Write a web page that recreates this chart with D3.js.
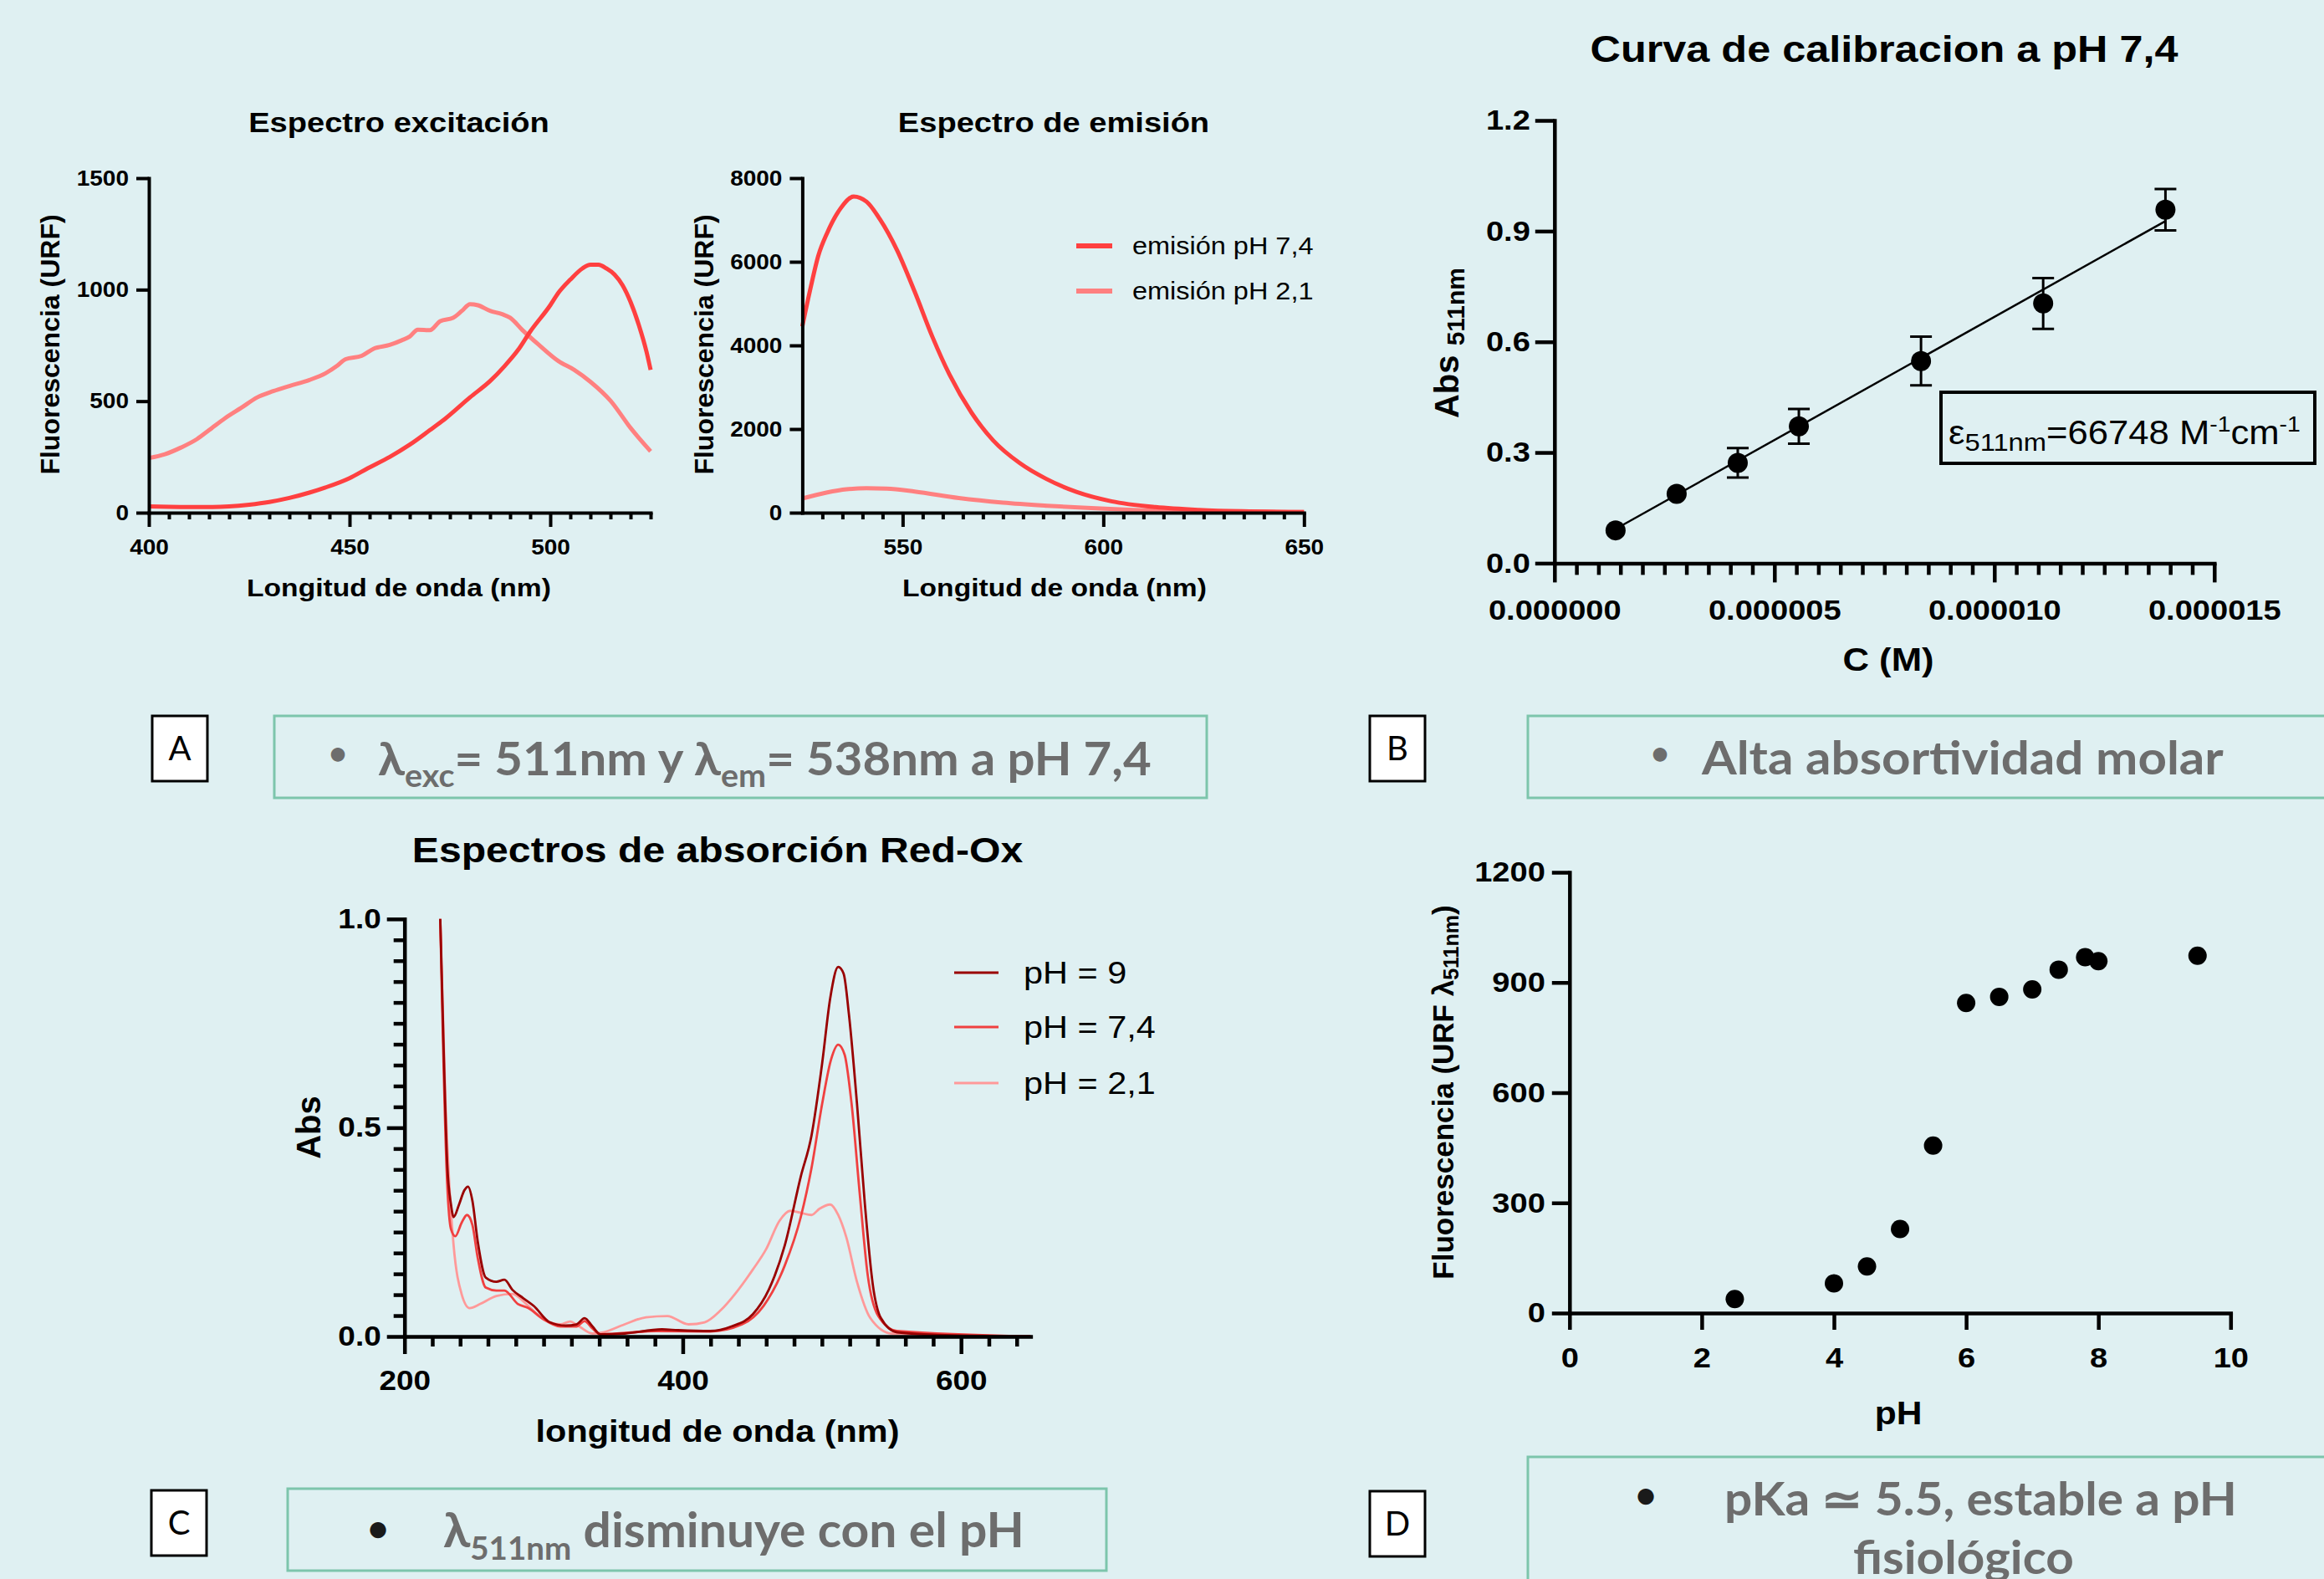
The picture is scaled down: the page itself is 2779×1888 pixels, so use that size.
<!DOCTYPE html>
<html><head><meta charset="utf-8">
<script src="https://cdn.jsdelivr.net/npm/d3@7"></script>
<style>html,body{margin:0;padding:0;background:#DFF0F2;} svg{display:block}</style>
</head><body>
<svg id="fig" width="2779" height="1888"></svg>
<script>
// ---------------- DATA ----------------
const excitacion_pH74 = [[400,28],[405,26],[410,25],[415,25],[420,28],[425,36],[430,48],[435,66],[440,90],[444,113],[450,155],[454.5,199],[460,250],[465,305],[470,370],[474,424],[480,517],[485,590],[488.6,657],[492,730],[495,812],[500,930],[502,985],[505,1045],[508,1095],[510,1112],[512,1112],[514,1095],[516,1068],[518,1020],[520,945],[522,845],[524,720],[525,640]];
const excitacion_pH21 = [[400,245],[404,262],[408,292],[412,330],[415,370],[419,424],[423,470],[427,517],[431,545],[435,568],[440,595],[444,625],[447,660],[449,688],[453,703],[456,735],[460,752],[463,773],[465,790],[467,820],[470,818],[472.6,859],[475.8,874],[478,905],[480,935],[482,930],[485,905],[488,890],[490,874],[493,820],[497,755],[502,680],[506,640],[510,587],[515,502],[520,380],[525,275]];
const emision_pH74 = [[525,4456],[527,5350],[529,6150],[531.2,6692],[534.5,7272],[537.8,7560],[541,7437],[544.3,7023],[548.6,6278],[553,5284],[557.4,4207],[561.7,3296],[567.2,2385],[572.6,1723],[579.2,1184],[585.7,812],[593.3,497],[602,273],[613,133],[623.8,66],[634.7,33],[650,17]];
const emision_pH21 = [[525,340],[531,480],[536,560],[541,585],[546,575],[553,505],[564,350],[575,240],[586,166],[597,108],[607.5,66],[624,33],[650,17]];
const absorcion_pH9 = [[225.7,1.0],[228.4,0.655],[230.7,0.413],[233.4,0.316],[235.3,0.286],[239.2,0.316],[243,0.35],[245.7,0.359],[248.8,0.325],[252.6,0.228],[258.4,0.141],[266,0.131],[271.8,0.136],[277.5,0.112],[285.2,0.092],[292.9,0.073],[304.4,0.034],[315.9,0.026],[323.6,0.029],[329.4,0.044],[335.1,0.024],[340.9,0.005],[358.2,0.007],[385,0.017],[396.6,0.015],[419.6,0.013],[435,0.024],[450.3,0.053],[461.8,0.112],[473.3,0.218],[484.8,0.383],[492.5,0.481],[500.2,0.655],[506,0.811],[511.7,0.885],[515.6,0.869],[519.4,0.772],[525.2,0.558],[530.9,0.316],[536.7,0.121],[542.4,0.044],[554,0.01],[588.5,0.003],[650,0.0]];
const absorcion_pH74 = [[225.7,1.0],[230.7,0.364],[233.4,0.257],[236.5,0.24],[241,0.272],[244.9,0.291],[248.8,0.267],[252.6,0.189],[258.4,0.117],[266,0.11],[271.8,0.11],[281.4,0.078],[289,0.068],[298.7,0.044],[312.1,0.024],[323.6,0.024],[329.4,0.037],[335.1,0.019],[340.9,0.005],[381,0.013],[419.6,0.012],[442.6,0.029],[458,0.073],[473.3,0.17],[484.8,0.286],[492.5,0.403],[500.2,0.558],[506.7,0.665],[511.7,0.699],[516.3,0.675],[521.3,0.558],[527.1,0.345],[532.8,0.15],[540.5,0.049],[554,0.013],[650,0.0]];
const absorcion_pH21 = [[225.7,1.0],[229.5,0.558],[232.2,0.364],[235.3,0.218],[241,0.102],[246.8,0.068],[254.5,0.078],[266,0.097],[277.5,0.102],[289,0.073],[300.6,0.039],[312.1,0.029],[319,0.036],[325.5,0.024],[335.1,0.007],[342.8,0.01],[358.2,0.029],[373.5,0.046],[388.9,0.049],[404.2,0.029],[415.7,0.034],[427.3,0.063],[438.8,0.107],[450.3,0.16],[459.9,0.209],[469.5,0.277],[477.2,0.301],[484.8,0.296],[492.5,0.291],[498.3,0.306],[506,0.316],[511.7,0.291],[517.5,0.238],[525.2,0.131],[534.8,0.044],[550.1,0.007],[650,0.0]];
const calib_conc = [1.389e-6, 2.778e-6, 4.167e-6, 5.556e-6, 8.333e-6, 11.11e-6, 13.89e-6];
const calib_abs  = [0.089, 0.188, 0.272, 0.371, 0.548, 0.704, 0.958];
const calib_err  = [0, 0, 0.040, 0.047, 0.066, 0.069, 0.056];
const calib_slope = 66748, calib_intercept = 0;
const pH_vals    = [2.5, 4, 4.5, 5, 5.5, 6, 6.5, 7, 7.4, 7.8, 8, 9.5];
const fluor_vals = [38, 81, 127, 229, 456, 844, 861, 881, 935, 969, 958, 973];

const ticksA1x = [400,450,500], ticksA1y = [0,500,1000,1500];
const ticksA2x = [550,600,650], ticksA2y = [0,2000,4000,6000,8000];
const ticksBx = [0,5e-6,10e-6,15e-6], ticksBy = [0,0.3,0.6,0.9,1.2];
const ticksCx = [200,400,600], ticksCy = [0,0.5,1.0];
const ticksDx = [0,2,4,6,8,10], ticksDy = [0,300,600,900,1200];
const minorA1x = d3.range(405,526,5).filter(v=>v%50!==0);
const minorA2x = d3.range(530,650,5).filter(v=>v%50!==0);
const minorBx = d3.range(1,30).filter(i=>i%10!==0).map(i=>i*0.5e-6);
const minorCx = d3.range(220,650,20).filter(v=>v%200!==0);
const minorCy = d3.range(1,20).filter(i=>i%10!==0).map(i=>i*0.05);

// ---------------- DRAW ----------------
const svg = d3.select('#fig');
const K = 1.12;
const SANS = "'Liberation Sans', Arial, Helvetica, sans-serif";
const CAL = "Lato, 'Open Sans', sans-serif";
svg.append('rect').attr('width',2779).attr('height',1888).attr('fill','#DFF0F2');

function htext(x, y, str, o){
  const g = svg.append('g').attr('transform',`translate(${x},${y}) scale(${o.k ?? K},1)`);
  return g.append('text').attr('text-anchor',o.anchor||'middle').attr('font-family',o.family||SANS)
    .attr('font-size',o.size).attr('font-weight',o.weight||'bold').attr('fill',o.fill||'#000').text(str);
}
function vtext(x, y, parts, o){
  const t = svg.append('g').attr('transform',`translate(${x},${y}) rotate(-90)`).append('text')
    .attr('text-anchor','middle').attr('font-family',SANS).attr('font-weight','bold').attr('fill','#000');
  parts.forEach(p=>t.append('tspan').attr('font-size',p.size).attr('dy',p.dy||0).text(p.t));
  return t;
}
function rich(x, y, parts, o){
  const g = svg.append('g').attr('transform',`translate(${x},${y})`);
  const t = g.append('text').attr('font-family',o.family||CAL).attr('font-weight',o.weight||'bold').attr('fill',o.fill||'#000');
  parts.forEach(p=>t.append('tspan').attr('font-size',p.size).attr('dy',p.dy||0).text(p.t));
  if(o.width){ const w = t.node().getComputedTextLength(); t.attr('transform',`scale(${o.width/w},1)`); }
  return t;
}
function styleAx(g, w, fs){
  g.attr('font-family',null).attr('font-size',null);
  g.select('.domain').attr('stroke','#000').attr('stroke-width',w).attr('stroke-linecap','square');
  g.selectAll('.tick line').attr('stroke','#000').attr('stroke-width',w);
  g.selectAll('.tick text').attr('font-family',SANS).attr('font-weight','bold').attr('font-size',fs).attr('fill','#000')
    .each(function(){ const x=+this.getAttribute('x')||0; this.setAttribute('x',x/K); this.setAttribute('transform',`scale(${K},1)`); });
}
function axes(o){
  const gx = svg.append('g').attr('transform',`translate(0,${o.b})`);
  if(o.xminor) gx.append('g').call(d3.axisBottom(o.x).tickValues(o.xminor).tickSize(o.xMinT).tickFormat('').tickSizeOuter(0))
     .call(g=>{g.select('.domain').remove(); g.selectAll('line').attr('stroke','#000').attr('stroke-width',o.w);});
  gx.append('g').call(d3.axisBottom(o.x).tickValues(o.xt).tickSize(o.xT).tickPadding(o.xP).tickFormat(o.xf).tickSizeOuter(0))
     .call(g=>styleAx(g,o.w,o.fs));
  const gy = svg.append('g').attr('transform',`translate(${o.l},0)`);
  if(o.yminor) gy.append('g').call(d3.axisLeft(o.y).tickValues(o.yminor).tickSize(o.yMinT).tickFormat('').tickSizeOuter(0))
     .call(g=>{g.select('.domain').remove(); g.selectAll('line').attr('stroke','#000').attr('stroke-width',o.w);});
  gy.append('g').call(d3.axisLeft(o.y).tickValues(o.yt).tickSize(o.yT).tickPadding(o.yP).tickFormat(o.yf).tickSizeOuter(0))
     .call(g=>styleAx(g,o.w,o.fs));
}
function curve(x, y, data, color, w){
  svg.append('path').datum(data).attr('fill','none').attr('stroke',color).attr('stroke-width',w)
    .attr('stroke-linejoin','round').attr('stroke-linecap','butt')
    .attr('d', d3.line().x(d=>x(d[0])).y(d=>y(d[1])).curve(d3.curveMonotoneX));
}
const RED='#FF4040', PINK='#FF8080';

// ---- Panel A1: excitation ----
{
  const x = d3.scaleLinear().domain([400,525]).range([178,778]);
  const y = d3.scaleLinear().domain([0,1500]).range([613,213]);
  curve(x,y,excitacion_pH21,PINK,5);
  curve(x,y,excitacion_pH74,RED,5);
  axes({x,y,b:613,l:178,w:4,fs:25,xt:ticksA1x,xminor:minorA1x,xT:17,xMinT:8,xP:15,xf:d3.format('d'),
        yt:ticksA1y,yT:15,yP:9,yf:d3.format('d')});
  htext(477,158,'Espectro excitación',{size:34});
  htext(477,713,'Longitud de onda (nm)',{size:30});
  vtext(71,412,[{t:'Fluorescencia (URF)',size:32}]);
}
// ---- Panel A2: emission ----
{
  const x = d3.scaleLinear().domain([525,650]).range([959.4,1559.3]);
  const y = d3.scaleLinear().domain([0,8000]).range([613,213]);
  curve(x,y,emision_pH21,PINK,5);
  curve(x,y,emision_pH74,RED,5);
  axes({x,y,b:613,l:959.4,w:4,fs:25,xt:ticksA2x,xminor:minorA2x,xT:17,xMinT:8,xP:15,xf:d3.format('d'),
        yt:ticksA2y,yT:15,yP:9,yf:d3.format('d')});
  htext(1260,158,'Espectro de emisión',{size:34});
  htext(1261,713,'Longitud de onda (nm)',{size:30});
  vtext(853,412,[{t:'Fluorescencia (URF)',size:32}]);
  const leg = [['emisión pH 7,4',RED,294,304],['emisión pH 2,1',PINK,348,358]];
  leg.forEach(([s,c,ly,tb])=>{
    svg.append('line').attr('x1',1287).attr('x2',1330).attr('y1',ly).attr('y2',ly).attr('stroke',c).attr('stroke-width',6);
    htext(1354,tb,s,{size:29,weight:'normal',anchor:'start'});
  });
}
// ---- Panel B: calibration ----
{
  const x = d3.scaleLinear().domain([0,15e-6]).range([1858.8,2647.8]);
  const y = d3.scaleLinear().domain([0,1.2]).range([673.4,144]);
  axes({x,y,b:673.4,l:1858.8,w:4.5,fs:34,xt:ticksBx,xminor:minorBx,xT:23,xMinT:14,xP:20,xf:d3.format('.6f'),
        yt:ticksBy,yT:23,yP:6,yf:d3.format('.1f')});
  const x0 = calib_conc[0], x1 = calib_conc[calib_conc.length-1];
  svg.append('line').attr('x1',x(x0)).attr('x2',x(x1)).attr('y1',y(calib_slope*x0+calib_intercept)).attr('y2',y(calib_slope*x1+calib_intercept))
    .attr('stroke','#000').attr('stroke-width',2.5);
  calib_conc.forEach((c,i)=>{
    const e = calib_err[i];
    if(e>0){
      const cx=x(c), yt=y(calib_abs[i]+e), yb=y(calib_abs[i]-e);
      svg.append('path').attr('d',`M${cx},${yt}V${yb}M${cx-13},${yt}H${cx+13}M${cx-13},${yb}H${cx+13}`)
        .attr('stroke','#000').attr('stroke-width',3).attr('fill','none');
    }
  });
  svg.append('g').selectAll('circle').data(calib_conc).join('circle')
    .attr('cx',d=>x(d)).attr('cy',(d,i)=>y(calib_abs[i])).attr('r',12).attr('fill','#000');
  htext(2253,74,'Curva de calibracion a pH 7,4',{size:45});
  htext(2258,802,'C (M)',{size:39});
  vtext(1744,410,[{t:'Abs ',size:40},{t:'511nm',size:30,dy:7}]);
  svg.append('rect').attr('x',2321).attr('y',469).attr('width',447).attr('height',85)
    .attr('fill','none').attr('stroke','#000').attr('stroke-width',4);
  rich(2330,531,[{t:'ε',size:40},{t:'511nm',size:30,dy:8},{t:'=66748 M',size:40,dy:-8},{t:'-1',size:26,dy:-15},{t:'cm',size:40,dy:15},{t:'-1',size:26,dy:-15}],
       {family:SANS,weight:'normal',width:421});
}
// ---- Panel C: absorption ----
{
  const x = d3.scaleLinear().domain([200,650]).range([483.7,1232.4]);
  const y = d3.scaleLinear().domain([0,1.0]).range([1598,1098.8]);
  const cols = ['#990000','#F04040','#FF9999'];
  curve(x,y,absorcion_pH21,cols[2],2.8);
  curve(x,y,absorcion_pH74,cols[1],2.8);
  curve(x,y,absorcion_pH9,cols[0],2.8);
  axes({x,y,b:1598,l:483.7,w:4.5,fs:33,xt:ticksCx,xminor:minorCx,xT:21,xMinT:12,xP:20,xf:d3.format('d'),
        yt:ticksCy,yminor:minorCy,yT:21,yMinT:13,yP:7,yf:d3.format('.1f')});
  htext(858,1031,'Espectros de absorción Red-Ox',{size:43});
  htext(858,1724,'longitud de onda (nm)',{size:37});
  vtext(383,1348,[{t:'Abs',size:40}]);
  const leg = [['pH = 9',cols[0],1163,1176],['pH = 7,4',cols[1],1228,1241],['pH = 2,1',cols[2],1295,1308]];
  leg.forEach(([s,c,ly,tb])=>{
    svg.append('line').attr('x1',1141).attr('x2',1194).attr('y1',ly).attr('y2',ly).attr('stroke',c).attr('stroke-width',3);
    htext(1224,tb,s,{size:37,weight:'normal',anchor:'start'});
  });
}
// ---- Panel D: pH titration ----
{
  const x = d3.scaleLinear().domain([0,10]).range([1876.8,2667.3]);
  const y = d3.scaleLinear().domain([0,1200]).range([1570,1043]);
  axes({x,y,b:1570,l:1876.8,w:4.5,fs:34,xt:ticksDx,xT:20,xP:21,xf:d3.format('d'),
        yt:ticksDy,yT:21,yP:8,yf:d3.format('d')});
  svg.append('g').selectAll('circle').data(pH_vals).join('circle')
    .attr('cx',d=>x(d)).attr('cy',(d,i)=>y(fluor_vals[i])).attr('r',11).attr('fill','#000');
  htext(2270,1703,'pH',{size:38});
  vtext(1738,1306,[{t:'Fluorescencia (URF λ',size:35},{t:'511nm',size:25,dy:6},{t:')',size:35,dy:-6}]);
}
// ---- Panel letters & callouts ----
const boxes = [['A',182,856],['B',1638,856],['C',181,1782],['D',1638,1783]];
boxes.forEach(([s,bx,by])=>{
  svg.append('rect').attr('x',bx).attr('y',by).attr('width',66).attr('height',78).attr('fill','#fff').attr('stroke','#000').attr('stroke-width',3);
  svg.append('text').attr('x',bx+33).attr('y',by+53).attr('text-anchor','middle').attr('font-family',CAL)
    .attr('font-size',40).attr('fill','#000').text(s);
});
const callouts = [[328,856,1115,98],[1827,856,1000,98],[344,1780,979,98],[1827,1742,1000,200]];
callouts.forEach(([cx,cy,w,h])=>{
  svg.append('rect').attr('x',cx).attr('y',cy).attr('width',w).attr('height',h).attr('fill','none')
    .attr('stroke','#7DC5AC').attr('stroke-width',3);
});
const GRAY = '#6D6D6D';
function bullet(x,y,size,fill){
  svg.append('text').attr('x',x).attr('y',y).attr('text-anchor','middle').attr('font-family',CAL).attr('font-weight','bold')
    .attr('font-size',size).attr('fill',fill).text('•');
}
bullet(404,914,38,GRAY);
rich(452,927,[{t:'λ',size:56},{t:'exc',size:38,dy:14},{t:'= 511nm y λ',size:56,dy:-14},{t:'em',size:38,dy:14},{t:'= 538nm a pH 7,4',size:56,dy:-14}],{fill:GRAY,width:925});
bullet(1985,914,38,GRAY);
rich(2035,926,[{t:'Alta absortividad molar',size:56}],{fill:GRAY,width:624});
bullet(452,1843,44,'#1A1A1A');
rich(530,1850,[{t:'λ',size:58},{t:'511nm',size:38,dy:15},{t:' disminuye con el pH',size:58,dy:-15}],{fill:GRAY,width:695});
bullet(1968,1803,44,'#1A1A1A');
rich(2062,1812,[{t:'pKa ≃ 5.5, estable a pH',size:56}],{fill:GRAY,width:613});
rich(2216,1882,[{t:'fisiológico',size:56}],{fill:GRAY,width:264});
</script>
</body></html>
